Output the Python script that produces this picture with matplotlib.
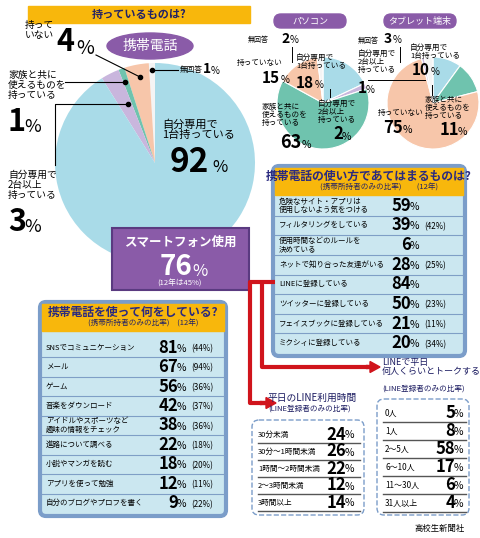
import matplotlib
matplotlib.use("Agg")
import matplotlib.pyplot as plt
from matplotlib.patches import FancyBboxPatch, Ellipse, Rectangle, FancyArrow
plt.rcParams['font.family'] = ['Noto Sans CJK JP', 'DejaVu Sans']

# ---------------- data ----------------
phone_labels = ["無回答", "持っていない", "家族と共に使えるものを持っている", "自分専用で2台以上持っている", "自分専用で1台持っている"]
phone_vals = [1, 4, 1, 3, 92]
pc_labels = ["自分専用で1台持っている", "自分専用で2台以上持っている", "家族と共に使えるものを持っている", "持っていない", "無回答"]
pc_vals = [18, 2, 63, 15, 2]
tab_labels = ["自分専用で1台持っている", "家族と共に使えるものを持っている", "持っていない", "自分専用で2台以上持っている", "無回答"]
tab_vals = [10, 11, 75, 1, 3]

usage_items = ["危険なサイト・アプリは\n使用しないよう気をつける", "フィルタリングをしている", "使用時間などのルールを\n決めている",
               "ネットで知り合った友達がいる", "LINEに登録している", "ツイッターに登録している",
               "フェイスブックに登録している", "ミクシィに登録している"]
usage_vals = [59, 39, 6, 28, 84, 50, 21, 20]
usage_prev = [None, 42, None, 25, None, 23, 11, 34]

act_items = ["SNSでコミュニケーション", "メール", "ゲーム", "音楽をダウンロード", "アイドルやスポーツなど\n趣味の情報をチェック",
             "進路について調べる", "小説やマンガを読む", "アプリを使って勉強", "自分のブログやプロフを書く"]
act_vals = [81, 67, 56, 42, 38, 22, 18, 12, 9]
act_prev = [44, 94, 36, 37, 36, 18, 20, 11, 22]

line_time = ["30分未満", "30分～1時間未満", "1時間～2時間未満", "2～3時間未満", "3時間以上"]
line_time_vals = [24, 26, 22, 12, 14]
line_people = ["0人", "1人", "2～5人", "6～10人", "11～30人", "31人以上"]
line_people_vals = [5, 8, 58, 17, 6, 4]

smartphone = 76
smartphone_prev = 45

BLUE = "#a9dbe8"; PEACH = "#f7c6aa"; GREEN = "#6fc3ae"; LAV = "#c9b6dd"; WHITE = "#f4f4f4"
PURPLE = "#8a5ba8"; ORANGE = "#f8b70c"; BOXBG = "#cbe7f0"; BOXEDGE = "#7b9dc9"; RED = "#d0141c"

W, H = 480, 538
fig = plt.figure(figsize=(4.8, 5.38), dpi=100)

def pie_axes(cx, cy, r):
    return fig.add_axes([(cx - r) / W, 1 - (cy + r) / H, 2 * r / W, 2 * r / H])

def finish(a):
    a.set_aspect('auto'); a.set_xlim(-1, 1); a.set_ylim(-1, 1); a.axis('off')

pa = pie_axes(155, 163, 100)
pa.pie(phone_vals, colors=[WHITE, PEACH, GREEN, LAV, BLUE], startangle=90, counterclock=True,
       wedgeprops=dict(linewidth=0))
finish(pa)

pb = pie_axes(323, 103, 46)
pb.pie(pc_vals, colors=[BLUE, LAV, GREEN, PEACH, WHITE], startangle=90, counterclock=False,
       wedgeprops=dict(linewidth=0.8, edgecolor='white'))
finish(pb)

pc = pie_axes(433, 103, 46)
pc.pie(tab_vals, colors=[BLUE, GREEN, PEACH, LAV, WHITE], startangle=90, counterclock=False,
       wedgeprops=dict(linewidth=0.8, edgecolor='white'))
finish(pc)

ax = fig.add_axes([0, 0, 1, 1])
ax.set_xlim(0, W); ax.set_ylim(H, 0); ax.axis('off'); ax.patch.set_alpha(0)

def T(x, y, s, size=6.5, ha='left', va='center', color='black', weight='normal', **kw):
    ax.text(x, y, s, fontsize=size, ha=ha, va=va, color=color, fontweight=weight, linespacing=1.0, **kw)

def pct(x, y, v, big=12, small=7.5):
    T(x, y, str(v), size=big, ha='right', weight='bold')
    T(x - 1, y + 1, "%", size=small, ha='left')

# ---- title bars ----
ax.add_patch(Rectangle((28, 6), 222, 17, color=ORANGE))
T(139, 14.5, "持っているものは?", size=8, ha='center', weight='bold', color='#222266')
ax.add_patch(Ellipse((150, 46), 86, 26, color=PURPLE))
T(150, 46, "携帯電話", size=10, ha='center', color='white')
for cx, s in [(310, "パソコン"), (420, "タブレット端末")]:
    ax.add_patch(FancyBboxPatch((cx - 36, 14), 72, 14, boxstyle="round,pad=0,rounding_size=7", color=PURPLE))
    T(cx, 21, s, size=6.5, ha='center', color='white')

# ---- main pie labels ----
T(25, 30, "持って\nいない", size=7, ha='left')
T(56, 42, "4", size=22, weight='bold'); T(76, 48, "%", size=14)
ax.plot([96, 140], [55, 77], color='k', lw=0.8); ax.plot(140, 77, 'ko', ms=3)
ax.plot([152, 178], [70, 70], color='k', lw=0.8); ax.plot(152, 70, 'ko', ms=3)
T(180, 70, "無回答", size=5.5); T(203, 69, "1", size=10, weight='bold'); T(211, 71, "%", size=7)
T(8, 85, "家族と共に\n使えるものを\n持っている", size=7, va='center')
ax.plot([65, 125], [82, 82], color='k', lw=0.8); ax.plot(125, 82, 'ko', ms=3)
T(8, 122, "1", size=22, weight='bold'); T(24, 127, "%", size=13)
ax.plot([55, 55, 128], [165, 104, 104], color='k', lw=0.8); ax.plot(128, 104, 'ko', ms=3)
T(8, 185, "自分専用で\n2台以上\n持っている", size=7)
T(8, 222, "3", size=22, weight='bold'); T(24, 227, "%", size=13)
T(162, 130, "自分専用で\n1台持っている", size=8)
T(170, 162, "92", size=24, weight='bold'); T(212, 168, "%", size=12)

# PC labels
T(248, 40, "無回答", size=5); T(281, 39, "2", size=10, weight='bold'); T(290, 40, "%", size=7)
ax.plot([292, 292], [47, 62], color='k', lw=0.7)
T(237, 63, "持っていない", size=5.5); T(262, 78, "15", size=11, weight='bold'); T(281, 80, "%", size=7)
T(296, 62, "自分専用で\n1台持っている", size=5.5)
T(296, 83, "18", size=11, weight='bold'); T(315, 85, "%", size=7)
T(262, 115, "家族と共に\n使えるものを\n持っている", size=5.5)
T(280, 142, "63", size=13, weight='bold'); T(302, 145, "%", size=7.5)
ax.plot([330, 330], [89, 97], color='k', lw=0.7)
T(318, 112, "自分専用で\n2台以上\n持っている", size=5.5)
T(333, 134, "2", size=12, weight='bold'); T(342, 137, "%", size=7.5)

# Tablet labels
T(358, 41, "無回答", size=5); T(384, 39, "3", size=10, weight='bold'); T(393, 40, "%", size=7)
ax.plot([400, 400], [47, 62], color='k', lw=0.7)
T(358, 62, "自分専用で\n2台以上\n持っている", size=5.5)
T(358, 88, "1", size=11, weight='bold'); T(366, 90, "%", size=7)
ax.plot([368, 425], [80, 80], color='k', lw=0.7)
T(410, 52, "自分専用で\n1台持っている", size=5.5)
T(412, 70, "10", size=11, weight='bold'); T(431, 72, "%", size=7)
ax.plot([432, 432], [85, 95], color='k', lw=0.7)
T(425, 108, "家族と共に\n使えるものを\n持っている", size=5.5)
T(440, 130, "11", size=12, weight='bold'); T(458, 132, "%", size=7.5)
T(378, 113, "持っていない", size=5.5)
T(383, 128, "75", size=12, weight='bold'); T(403, 130, "%", size=7.5)

def box(x0, y0, w, h, title, sub, rows_y0, rows, vals, prevs, numx, big=12, header_h=27):
    ax.add_patch(FancyBboxPatch((x0, y0), w, h, boxstyle="round,pad=0,rounding_size=6",
                                facecolor=BOXBG, edgecolor=BOXEDGE, lw=3))
    ax.add_patch(Rectangle((x0 + 2, y0 + 2), w - 4, header_h, color=ORANGE))
    T(x0 + w / 2, y0 + 10, title, size=8.5, ha='center', weight='bold', color='#2a2a80')
    T(x0 + w / 2 + 10, y0 + 22, sub, size=5.5, ha='center', color='#222266')
    n = len(rows)
    rh = (y0 + h - 3 - rows_y0) / n
    for i, (lab, v, p) in enumerate(zip(rows, vals, prevs)):
        yc = rows_y0 + rh * (i + 0.5)
        if i > 0:
            ax.plot([x0 + 2, x0 + w - 2], [rows_y0 + rh * i] * 2, color='#7f9fc6', lw=0.8)
        T(x0 + 6, yc, lab, size=5.4)
        pct(numx, yc, v, big=big)
        if p is not None:
            T(numx + 13, yc + 1, f"({p}%)", size=5.8)

box(273, 166, 192, 190, "携帯電話の使い方であてはまるものは?", "(携帯所持者のみの比率)　　(12年)",
    196, usage_items, usage_vals, usage_prev, 411)
box(40, 302, 186, 214, "携帯電話を使って何をしている?", "(携帯所持者のみの比率)　(12年)",
    338, act_items, act_vals, act_prev, 178)

# ---- smartphone box ----
ax.add_patch(Rectangle((112, 228), 137, 62, facecolor=PURPLE, edgecolor='#5a3a80', lw=1.5))
T(180, 242, "スマートフォン使用", size=9, ha='center', color='white', weight='bold')
T(192, 267, str(smartphone), size=20, ha='right', color='white', weight='bold')
T(192, 271, "%", size=12, color='white')
T(180, 284, f"(12年は{smartphone_prev}%)", size=5.5, ha='center', color='white')

# ---- red arrows ----
ax.plot([275, 250, 250, 262], [282, 282, 403, 403], color=RED, lw=3, solid_capstyle='butt')
ax.add_patch(FancyArrow(260, 403, 6, 0, width=3, head_width=11, head_length=10, color=RED))
ax.plot([262, 262, 368], [282, 367, 367], color=RED, lw=3, solid_capstyle='butt')
ax.add_patch(FancyArrow(366, 367, 4, 0, width=3, head_width=11, head_length=10, color=RED))

# ---- LINE boxes ----
T(268, 398, "平日のLINE利用時間", size=7, color='#1a1a60')
T(268, 409, "(LINE登録者のみの比率)", size=5.5, color='#1a1a60')
ax.add_patch(FancyBboxPatch((252, 420), 112, 95, boxstyle="round,pad=0,rounding_size=7",
                            facecolor='white', edgecolor=BOXEDGE, lw=1, linestyle='--'))
rh = 85 / len(line_time)
for i, (lab, v) in enumerate(zip(line_time, line_time_vals)):
    yc = 426 + rh * (i + 0.5)
    ax.plot([258, 360], [426 + rh * (i + 1)] * 2, color='#555', lw=1)
    T(258, yc, lab, size=5.5)
    pct(346, yc, v, big=12)

T(382, 367, "LINEで平日\n何人くらいとトークする?", size=6.5, color='#1a1a60')
T(382, 389, "(LINE登録者のみの比率)", size=5.5, color='#1a1a60')
ax.add_patch(FancyBboxPatch((377, 399), 92, 116, boxstyle="round,pad=0,rounding_size=7",
                            facecolor='white', edgecolor=BOXEDGE, lw=1, linestyle='--'))
rh = 108 / len(line_people)
for i, (lab, v) in enumerate(zip(line_people, line_people_vals)):
    yc = 404 + rh * (i + 0.5)
    ax.plot([383, 466], [404 + rh * (i + 1)] * 2, color='#555', lw=1)
    T(385, yc, lab, size=5.8)
    pct(455, yc, v, big=12)

T(440, 528, "高校生新聞社", size=6, ha='center')

fig.savefig("out.png", dpi=100)
